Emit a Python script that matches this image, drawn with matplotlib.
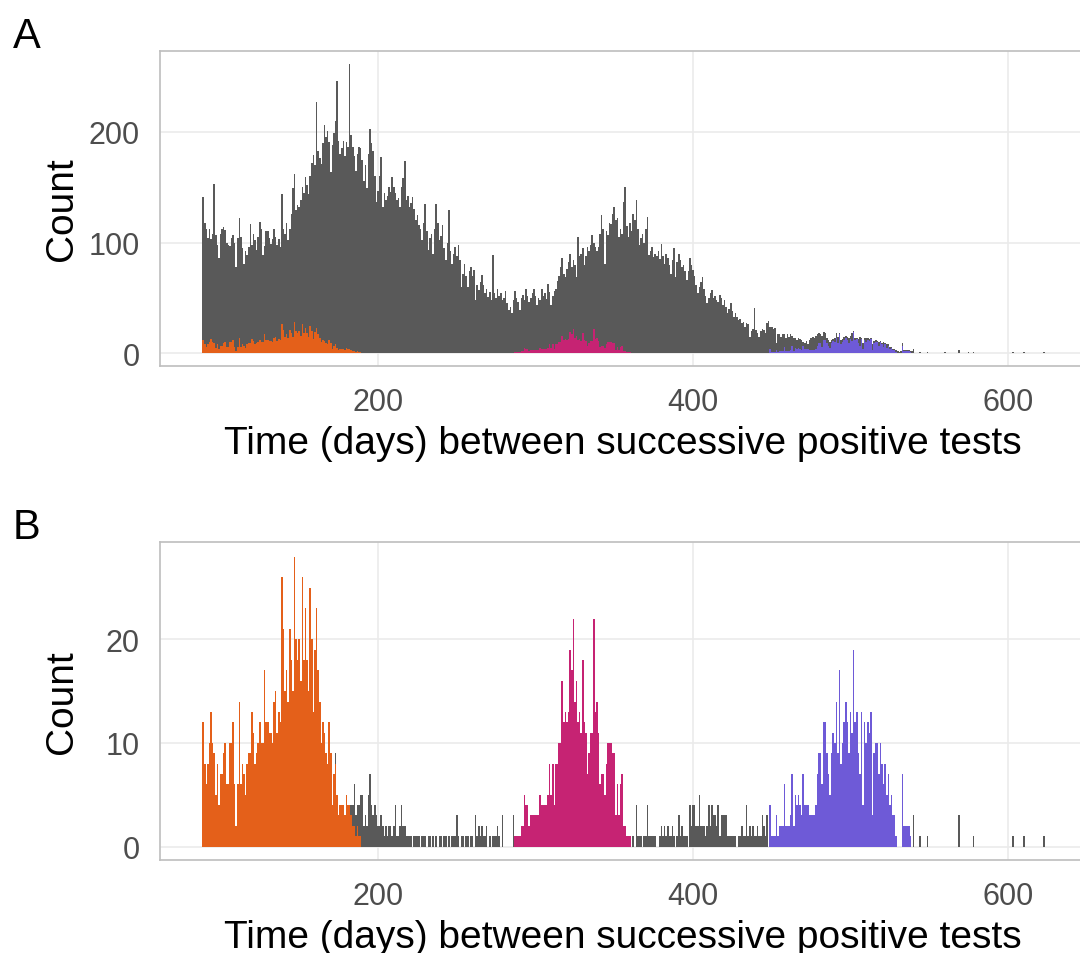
import numpy as np
import matplotlib
matplotlib.use("Agg")
import matplotlib.pyplot as plt

# ------------------------------------------------------------------
# DATA: daily counts (histogram, 1-day bins)
# ------------------------------------------------------------------
# Panel A: all intervals between successive positive tests
TOTAL_START = 89
total_counts = [
    141, 118, 112, 104, 112, 103, 108, 153, 107, 98,
    86, 108, 112, 114, 111, 100, 98, 97, 104, 107,
    100, 78, 104, 122, 105, 95, 81, 92, 89, 96,
    117, 98, 108, 102, 93, 105, 119, 112, 89, 97,
    110, 110, 104, 99, 103, 112, 105, 98, 103, 96,
    144, 112, 108, 118, 102, 112, 126, 149, 162, 129,
    134, 132, 138, 150, 145, 159, 152, 144, 160, 172,
    179, 170, 227, 183, 176, 171, 190, 206, 195, 201,
    191, 164, 188, 199, 210, 246, 192, 180, 185, 192,
    178, 191, 186, 261, 197, 186, 178, 165, 180, 186,
    185, 175, 156, 170, 149, 180, 203, 190, 183, 160,
    137, 147, 160, 177, 132, 145, 138, 142, 150, 146,
    159, 150, 145, 138, 140, 132, 150, 158, 174, 138,
    142, 132, 136, 141, 130, 120, 125, 116, 112, 102,
    118, 135, 110, 93, 104, 108, 90, 112, 135, 118,
    102, 106, 116, 95, 84, 100, 129, 92, 81, 90,
    96, 88, 98, 84, 60, 72, 81, 70, 60, 74,
    78, 70, 75, 48, 62, 57, 64, 71, 62, 54,
    58, 51, 55, 48, 89, 54, 50, 58, 52, 54,
    48, 50, 56, 45, 39, 42, 36, 48, 56, 50,
    46, 39, 50, 53, 48, 58, 52, 46, 50, 54,
    58, 52, 44, 50, 48, 58, 52, 54, 49, 63,
    55, 44, 52, 56, 58, 65, 70, 78, 86, 72,
    69, 76, 82, 90, 78, 84, 80, 69, 105, 88,
    90, 95, 80, 88, 96, 92, 98, 107, 100, 96,
    92, 96, 108, 125, 112, 81, 110, 107, 118, 117,
    126, 132, 120, 122, 105, 112, 108, 137, 150, 115,
    105, 118, 110, 126, 120, 138, 112, 98, 104, 108,
    100, 112, 123, 89, 92, 96, 87, 90, 88, 92,
    85, 99, 88, 81, 90, 86, 80, 72, 84, 95,
    69, 82, 90, 84, 78, 80, 74, 66, 74, 86,
    80, 75, 70, 62, 54, 60, 64, 69, 58, 52,
    45, 50, 54, 57, 50, 52, 48, 46, 53, 50,
    44, 48, 42, 36, 40, 45, 38, 33, 36, 33,
    30, 31, 27, 28, 24, 27, 26, 15, 20, 22,
    41, 21, 18, 15, 20, 22, 21, 18, 27, 29,
    24, 24, 22, 23, 9, 17, 17, 15, 17, 17,
    14, 17, 15, 17, 16, 14, 14, 12, 14, 13,
    12, 10, 9, 11, 8, 12, 14, 15, 14, 16,
    17, 18, 17, 16, 19, 18, 14, 12, 10, 12,
    13, 14, 18, 15, 18, 12, 13, 15, 16, 15,
    14, 16, 18, 20, 14, 14, 13, 15, 14, 9,
    14, 14, 14, 13, 14, 8, 11, 12, 11, 10,
    11, 9, 10, 9, 8, 8, 6, 6, 4, 4,
    3, 2, 1, 2, 9, 3, 3, 3, 3, 2,
    2, 4,
]
total_late_days = [544, 549, 560, 569, 575, 578, 603, 610, 623]
total_late_counts = [1, 1, 1, 3, 1, 1, 1, 1, 1]

# coloured groups (drawn in both panels)
WAVE1_START = 89
wave1_counts = [
    12, 8, 6, 8, 10, 13, 10, 9, 5, 8,
    4, 7, 7, 9, 10, 6, 6, 10, 10, 12,
    6, 2, 6, 14, 6, 8, 7, 5, 8, 9,
    9, 13, 11, 8, 9, 10, 12, 10, 10, 17,
    12, 12, 11, 11, 10, 14, 15, 11, 13, 12,
    26, 21, 15, 17, 14, 21, 18, 15, 28, 20,
    18, 20, 16, 26, 18, 23, 18, 15, 25, 20,
    13, 19, 23, 17, 14, 10, 12, 11, 9, 8,
    12, 9, 4, 7, 8, 5, 3, 4, 4, 4,
    3, 5, 4, 4, 3, 2, 2, 1, 2, 1, 1,
]
WAVE2_START = 287
wave2_counts = [
    1, 1, 1, 1, 2, 2, 5, 4, 4, 2,
    3, 3, 3, 3, 3, 3, 5, 4, 4, 4,
    4, 5, 8, 5, 8, 4, 8, 8, 10, 10,
    16, 12, 13, 12, 13, 19, 17, 22, 14, 16,
    12, 13, 11, 18, 12, 11, 7, 9, 11, 11,
    22, 13, 14, 11, 6, 7, 7, 5, 8, 10,
    10, 10, 9, 9, 3, 6, 3, 6, 7, 2,
    2, 1, 1, 1,
]
WAVE3_START = 449
wave3_counts = [
    4, 1, 1, 1, 3, 1, 2,
    2, 2, 6, 2, 2, 2, 3, 7, 2, 5,
    4, 5, 4, 3, 7, 4, 4, 4, 3, 3,
    3, 3, 4, 7, 9, 9, 6, 12, 12, 9,
    7, 5, 9, 11, 10, 14, 9, 17, 8, 10,
    12, 14, 12, 9, 13, 11, 19, 12, 13, 9,
    7, 13, 4, 12, 10, 12, 11, 13, 3, 9,
    10, 10, 7, 10, 8, 6, 8, 5, 7, 4,
    5, 3, 3, 1, 0, 0, 0, 7, 2, 2,
    2, 2, 1,
]

# Panel B: remaining (grey) counts, stacked on top of the coloured ones
OTHER1_START = 173
other1_counts = [
    1, 0, 0, 0, 0, 0, 0, 0, 0, 0,
    1, 2, 4, 2, 2, 3, 4,
    5, 2, 3, 2, 5, 7, 4, 3, 4, 3,
    2, 2, 3, 2, 1, 2, 1, 2, 2, 1,
    2, 4, 1, 1, 2, 4, 2, 2, 1, 1,
    1, 1, 0, 1, 1, 1, 1, 0, 1, 1,
    1, 0, 1, 1, 0, 1, 0, 1, 0, 1,
    1, 0, 1, 1, 0, 1, 0, 1, 1, 1,
    3, 1, 0, 1, 1, 0, 1, 1, 0, 1,
    1, 0, 3, 1, 2, 1, 2, 1, 1, 2,
    0, 1, 0, 1, 1, 1, 2, 1, 0, 3,
    0, 0, 0, 0, 0, 0, 3,
]
OTHER2_START = 361
other2_counts = [
    0, 1, 0, 4, 1, 1, 1, 0, 1, 1,
    4, 1, 1, 1, 1, 1, 0, 0, 1, 2,
    1, 2, 1, 2, 1, 1, 2, 1, 0, 1,
    3, 1, 2, 1, 1, 1, 0, 4, 2, 4,
    4, 2, 2, 5, 2, 2, 2, 1, 2, 4,
    2, 4, 3, 3, 2, 4, 1, 3, 3, 3,
    3, 1, 1, 1, 1, 1, 1, 0, 1, 1,
    2, 1, 1, 4, 1, 2, 1, 2, 1, 1,
    2, 1, 1, 3, 2, 1, 3, 0,
]
other_late_days = [540, 544, 549, 569, 578, 603, 610, 623]
other_late_counts = [3, 1, 1, 3, 1, 1, 1, 1]

GREY = "#595959"
WAVE_COLOURS = ["#E4601A", "#C62373", "#6E5AD7"]

# ------------------------------------------------------------------
# PLOT
# ------------------------------------------------------------------
plt.rcParams["font.family"] = ["Liberation Sans", "DejaVu Sans"]

W, H = 1080, 954
fig = plt.figure(figsize=(W / 100, H / 100), dpi=100)
ax_a = fig.add_axes([160 / W, 1 - 367 / H, 926 / W, 315 / H])
ax_b = fig.add_axes([160 / W, 1 - 861 / H, 926 / W, 318 / H])


def day_range(start, counts):
    return np.arange(start, start + len(counts))


def hist_bars(ax, days, counts, colour, bottom=None):
    ax.bar(days, counts, width=1.0, bottom=bottom, color=colour,
           linewidth=0, align="center")


waves = [(WAVE1_START, wave1_counts), (WAVE2_START, wave2_counts),
         (WAVE3_START, wave3_counts)]

# panel A: total in grey, coloured groups over the bottom
hist_bars(ax_a, day_range(TOTAL_START, total_counts), total_counts, GREY)
hist_bars(ax_a, total_late_days, total_late_counts, GREY)
for (start, counts), col in zip(waves, WAVE_COLOURS):
    hist_bars(ax_a, day_range(start, counts), counts, col)

# panel B: coloured groups at the bottom, grey stacked on top
wave_by_day = {}
for (start, counts), col in zip(waves, WAVE_COLOURS):
    hist_bars(ax_b, day_range(start, counts), counts, col)
    for d, c in zip(day_range(start, counts), counts):
        wave_by_day[int(d)] = c

other_days = np.concatenate([day_range(OTHER1_START, other1_counts),
                             day_range(OTHER2_START, other2_counts),
                             other_late_days])
other_vals = np.concatenate([other1_counts, other2_counts, other_late_counts])
other_bottom = [wave_by_day.get(int(d), 0) for d in other_days]
hist_bars(ax_b, other_days, other_vals, GREY, bottom=other_bottom)


def style(ax, ylim, yticks, label_y):
    ax.set_xlim(61.6, 649.5)
    ax.set_ylim(*ylim)
    ax.set_xticks([200, 400, 600])
    ax.set_yticks(yticks)
    ax.set_axisbelow(True)
    ax.grid(True, color="#EBEBEB", linewidth=1.2)
    ax.tick_params(length=0, labelsize=22, labelcolor="#4D4D4D")
    ax.tick_params(axis="x", pad=15)
    ax.tick_params(axis="y", pad=14.5)
    for s in ax.spines.values():
        s.set_color("#BEBEBE")
        s.set_linewidth(1.2)
    ax.set_xlabel("Time (days) between successive positive tests", fontsize=28)
    ax.set_ylabel("Count", fontsize=28)
    ax.xaxis.set_label_coords(0.5, label_y)
    ax.yaxis.set_label_coords(-0.0864, 0.5)


style(ax_a, (-11.5, 273), [0, 100, 200], -0.1873)
style(ax_b, (-1.3, 29.4), [0, 10, 20], -0.1855)

fig.text(13 / W, 1 - 48 / H, "A", fontsize=30, ha="left", va="baseline")
fig.text(13 / W, 1 - 539 / H, "B", fontsize=30, ha="left", va="baseline")

fig.savefig("out.png", dpi=100)
